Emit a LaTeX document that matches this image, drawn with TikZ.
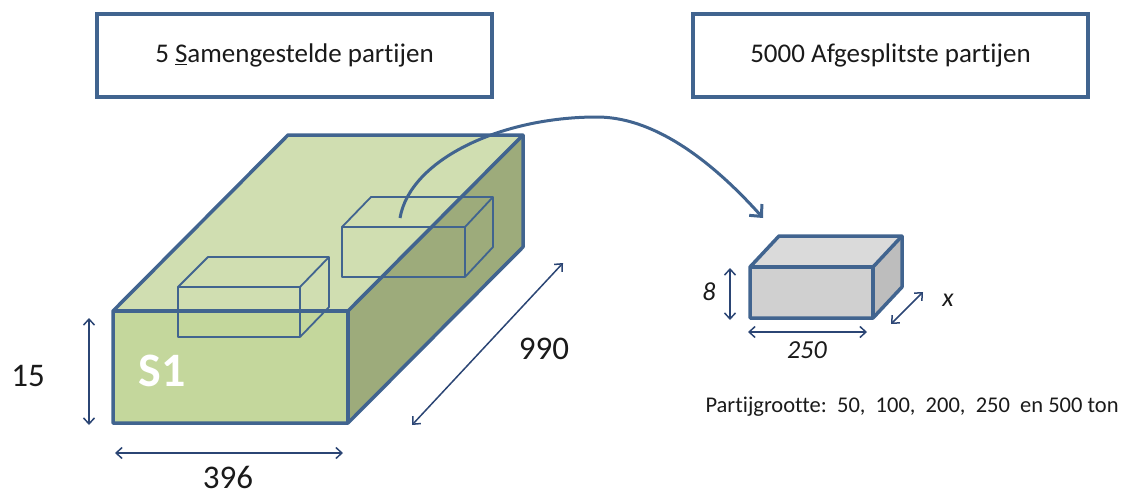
\documentclass[tikz,border=0pt]{standalone}
\usepackage{fontspec}
\setmainfont{Carlito}[Ligatures=NoCommon]
\usetikzlibrary{arrows.meta}
\definecolor{edgeblue}{HTML}{41648F}
\definecolor{dimblue}{HTML}{2B4574}
\definecolor{topgreen}{HTML}{D0DEB1}
\definecolor{frontgreen}{HTML}{C4D79C}
\definecolor{sidegreen}{HTML}{9DAB7B}
\definecolor{topgrey}{HTML}{DADADA}
\definecolor{frontgrey}{HTML}{D0D0D0}
\definecolor{sidegrey}{HTML}{BDBDBD}
\definecolor{txt}{HTML}{1A1A1A}
\tikzset{
  titlebox/.style={draw=edgeblue, line width=3.5pt, minimum width=395pt, minimum height=83pt, inner sep=0pt, text=txt, font=\fontsize{27}{32}\selectfont},
  bigedge/.style={draw=edgeblue, line width=3.5pt, line join=round},
  inneredge/.style={draw=edgeblue, line width=1.8pt, line join=round},
  dimarrow/.style={draw=dimblue, line width=1.5pt, {Straight Barb[length=6pt,width=11pt]}-{Straight Barb[length=6pt,width=11pt]}},
  biglabel/.style={text=txt, inner sep=1pt, font=\fontsize{33}{38}\selectfont},
  smalllabel/.style={text=txt, font=\fontsize{26}{30}\selectfont\itshape},
  curvearrow/.style={draw=edgeblue, line width=3pt, -{Straight Barb[length=9pt,width=17pt]}},
}
\begin{document}
\begin{tikzpicture}[x=1pt,y=-1pt]
\useasboundingbox (0,0) rectangle (1126,496);
% title boxes
\node[titlebox] (t1) at (294.5,55.5) {5 \underline{S}amengestelde partijen};
\node[titlebox] (t2) at (890.5,55.5) {5000 Afgesplitste partijen};
% big box
\coordinate (F1) at (113,311); \coordinate (F2) at (348,311);
\coordinate (F3) at (348,423); \coordinate (F4) at (113,423);
\coordinate (B1) at (288,135); \coordinate (B2) at (523,135);
\coordinate (B3) at (523,247);
\fill[topgreen] (F1) -- (B1) -- (B2) -- (F2) -- cycle;
\fill[sidegreen] (F2) -- (B2) -- (B3) -- (F3) -- cycle;
\fill[frontgreen] (F1) -- (F2) -- (F3) -- (F4) -- cycle;
\draw[bigedge] (F1) -- (B1) -- (B2) -- (B3) -- (F3) -- (F4) -- cycle;
\draw[bigedge] (F1) -- (F2) -- (F3);
\draw[bigedge] (F2) -- (B2);
% inner box 1
\coordinate (a1) at (178,287); \coordinate (a2) at (300,287);
\coordinate (a3) at (300,337); \coordinate (a4) at (178,337);
\coordinate (a5) at (208,257); \coordinate (a6) at (329,257);
\coordinate (a7) at (329,307);
\draw[inneredge] (a1) -- (a2) -- (a3) -- (a4) -- cycle;
\draw[inneredge] (a1) -- (a5) -- (a6) -- (a7) -- (a3);
\draw[inneredge] (a2) -- (a6);
% inner box 2
\coordinate (b1) at (342,227); \coordinate (b2) at (465,227);
\coordinate (b3) at (465,277); \coordinate (b4) at (342,277);
\coordinate (b5) at (371,197); \coordinate (b6) at (493,197);
\coordinate (b7) at (493,247);
\draw[inneredge] (b1) -- (b2) -- (b3) -- (b4) -- cycle;
\draw[inneredge] (b1) -- (b5) -- (b6) -- (b7) -- (b3);
\draw[inneredge] (b2) -- (b6);
\node[text=white, font=\fontsize{48}{54}\selectfont\bfseries] (s1) at (162,371) {S1};
% small box
\coordinate (c1) at (750,267); \coordinate (c2) at (873,267);
\coordinate (c3) at (873,318); \coordinate (c4) at (750,318);
\coordinate (c5) at (779,236); \coordinate (c6) at (902,236);
\coordinate (c7) at (902,287);
\fill[topgrey] (c1) -- (c5) -- (c6) -- (c2) -- cycle;
\fill[sidegrey] (c2) -- (c6) -- (c7) -- (c3) -- cycle;
\fill[frontgrey] (c1) -- (c2) -- (c3) -- (c4) -- cycle;
\draw[bigedge] (c1) -- (c5) -- (c6) -- (c7) -- (c3) -- (c4) -- cycle;
\draw[bigedge] (c1) -- (c2) -- (c3);
\draw[bigedge] (c2) -- (c6);
% curved arrow
\coordinate (src) at (400,218);
\coordinate (peak) at (597,117);
\coordinate (dst) at (763,218);
\draw[curvearrow] (src) .. controls (410,160) and (500,117) .. (peak) .. controls (660,117) and (720,170) .. (dst);
% dimensions big box
\coordinate (h1) at (89,318); \coordinate (h2) at (89,425);
\draw[dimarrow] (h1) -- (h2);
\node[biglabel] (l15) at (28,376) {15};
\coordinate (w1) at (115,453); \coordinate (w2) at (343,453);
\draw[dimarrow] (w1) -- (w2);
\node[biglabel, text height=21pt, text depth=0pt] (l396) at (228,478) {396};
\coordinate (d1) at (412,425); \coordinate (d2) at (563,263);
\draw[dimarrow] (d1) -- (d2);
\node[biglabel] (l990) at (544,349) {990};
% dimensions small box
\coordinate (p1) at (730,268); \coordinate (p2) at (730,320);
\draw[dimarrow] (p1) -- (p2);
\node[smalllabel] (l8) at (709,292) {8};
\coordinate (q1) at (748,332); \coordinate (q2) at (867,332);
\draw[dimarrow] (q1) -- (q2);
\node[smalllabel] (l250) at (807,350) {250};
\coordinate (r1) at (891,324); \coordinate (r2) at (923,292);
\draw[dimarrow] (r1) -- (r2);
\node[smalllabel] (lx) at (948,300) {x};
\node[text=txt, font=\fontsize{22.5}{27}\selectfont] (size) at (912,407) {Partijgrootte:\ \ 50,\ \ 100,\ \ 200,\ \ 250\ \ en 500 ton};
\end{tikzpicture}
\end{document}
